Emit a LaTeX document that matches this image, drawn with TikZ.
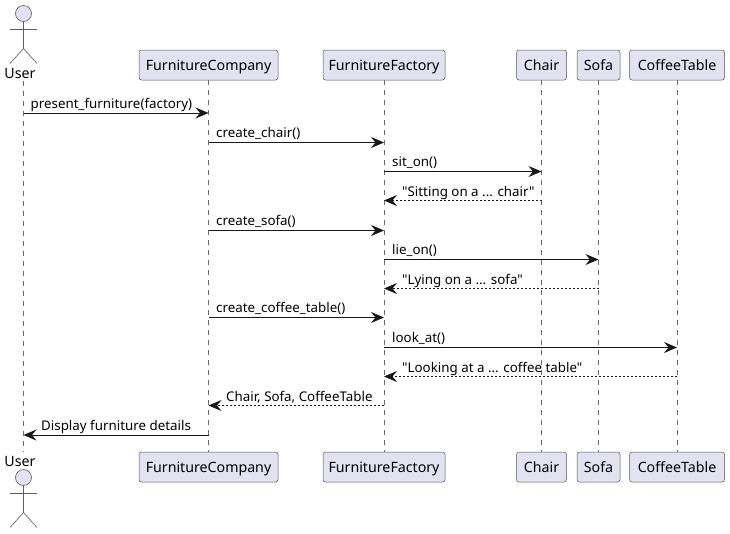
\documentclass[tikz,border=0pt]{standalone}
\usepackage{fontspec}
\setmainfont{Noto Sans}[Ligatures=TeXOff]
\usetikzlibrary{arrows.meta}
\definecolor{pfill}{HTML}{E2E2F0}
\definecolor{pline}{HTML}{181818}
\tikzset{
  x=1pt,y=-1pt,
  part/.style={draw=pline!75,line width=.5pt,fill=pfill,rounded corners=2.5pt,minimum height=30pt,inner sep=0pt,text=black,text height=13pt,text depth=3pt,font=\fontsize{14.2}{16}\selectfont},
  lifeline/.style={draw=pline!65,line width=.5pt,dash pattern=on 5pt off 5pt},
  actorline/.style={draw=pline!70,line width=.6pt},
  actorlabel/.style={inner sep=0pt,text=black,text height=13pt,text depth=3pt,font=\fontsize{14.2}{16}\selectfont},
  msg/.style={draw=pline,line width=.9pt,-{Stealth[length=13pt,width=11pt,inset=4.5pt]}},
  ret/.style={msg,dash pattern=on 2pt off 2pt,-{Stealth[length=13pt,width=11pt,inset=4.5pt]}},
  lab/.style={inner sep=0pt,anchor=base west,text=black,font=\fontsize{13.35}{15}\selectfont},
}
\newcommand{\stick}[2]{%
  \draw[actorline,fill=pfill] (#1,#2) circle (8pt);
  \draw[actorline] (#1,#2+8) -- (#1,#2+35) (#1-13.5,#2+16) -- (#1+13.5,#2+16)
    (#1-13.5,#2+50) -- (#1,#2+35) -- (#1+13.5,#2+50);
}
\begin{document}
\begin{tikzpicture}
\useasboundingbox (0,0) rectangle (730,533);
% actors
\stick{23.5}{13.5}
\stick{23.5}{477.5}
\node[actorlabel] (ut) at (20,73) {User};
\node[actorlabel] (ub) at (20,461) {User};
% participants
\node[part,minimum width=139pt] (ct) at (208.5,65) {FurnitureCompany};
\node[part,minimum width=122pt] (ft) at (384,65) {FurnitureFactory};
\node[part,minimum width=50pt] (ht) at (541.5,65) {Chair};
\node[part,minimum width=43pt] (st) at (598.5,65) {Sofa};
\node[part,minimum width=95pt] (tt) at (677,65) {CoffeeTable};
\node[part,minimum width=139pt] (cb) at (208.5,467) {FurnitureCompany};
\node[part,minimum width=122pt] (fb) at (384,467) {FurnitureFactory};
\node[part,minimum width=50pt] (hb) at (541.5,467) {Chair};
\node[part,minimum width=43pt] (sb) at (598.5,467) {Sofa};
\node[part,minimum width=95pt] (tb) at (677,467) {CoffeeTable};
% lifelines
\coordinate (ua) at (23.5,81);
\coordinate (uz) at (23.5,452);
\draw[lifeline] (ua) -- (uz);
\draw[lifeline] (ct.south) -- (cb.north);
\draw[lifeline] (ft.south) -- (fb.north);
\draw[lifeline] (ht.south) -- (hb.north);
\draw[lifeline] (st.south) -- (sb.north);
\draw[lifeline] (tt.south) -- (tb.north);
% message rows
\coordinate (r1) at (0,113);
\coordinate (r2) at (0,142.5);
\coordinate (r3) at (0,171.5);
\coordinate (r4) at (0,200.5);
\coordinate (r5) at (0,230.5);
\coordinate (r6) at (0,259.5);
\coordinate (r7) at (0,288.5);
\coordinate (r8) at (0,317.5);
\coordinate (r9) at (0,347.5);
\coordinate (r10) at (0,376.5);
\coordinate (r11) at (0,405.5);
\coordinate (r12) at (0,435);
% messages
\draw[msg] (ua |- r1) -- (ct |- r1);
\draw[msg] (ct |- r2) -- (ft |- r2);
\draw[msg] (ft |- r3) -- (ht |- r3);
\draw[ret] (ht |- r4) -- (ft |- r4);
\draw[msg] (ct |- r5) -- (ft |- r5);
\draw[msg] (ft |- r6) -- (st |- r6);
\draw[ret] (st |- r7) -- (ft |- r7);
\draw[msg] (ct |- r8) -- (ft |- r8);
\draw[msg] (ft |- r9) -- (tt |- r9);
\draw[ret] (tt |- r10) -- (ft |- r10);
\draw[ret] (ft |- r11) -- (ct |- r11);
\draw[msg] (ct |- r12) -- (ua |- r12);
% labels
\node[lab] (l1) at (30.5,108) {present\_furniture(factory)};
\node[lab] (l2) at (216,137.5) {create\_chair()};
\node[lab] (l3) at (392,166.5) {sit\_on()};
\node[lab] (l4) at (402,196) {"Sitting on a ... chair"};
\node[lab] (l5) at (216,225.5) {create\_sofa()};
\node[lab] (l6) at (392,254.5) {lie\_on()};
\node[lab] (l7) at (402,284) {"Lying on a ... sofa"};
\node[lab] (l8) at (216,312.5) {create\_coffee\_table()};
\node[lab] (l9) at (392,342.5) {look\_at()};
\node[lab] (l10) at (402,372) {"Looking at a ... coffee table"};
\node[lab] (l11) at (226,401) {Chair, Sofa, CoffeeTable};
\node[lab] (l12) at (41,430) {Display furniture details};
\end{tikzpicture}
\end{document}
